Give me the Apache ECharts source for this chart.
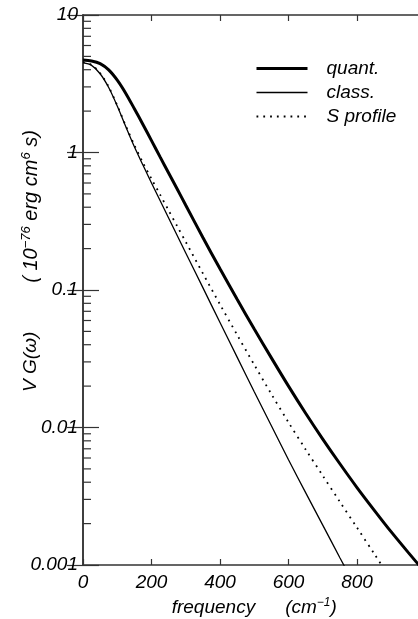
<!DOCTYPE html>
<html><head><meta charset="utf-8">
<script src="https://cdn.jsdelivr.net/npm/echarts@6/dist/echarts.min.js"></script>
<style>html,body{margin:0;padding:0;background:#fff}#c{width:418px;height:619px}</style>
</head><body><div id="c"></div>
<script>
const freq    = [0,25,50,75,100,125,150,175,200,225,250,275,300,350,400,450,500,550,600,650,700,750,800,850,900,950,1000];
const quant   = [4.70,4.63,4.43,3.99,3.36,2.69,2.08,1.60,1.22,0.929,0.710,0.543,0.413,0.241,0.1426,0.0855,0.0520,0.0321,0.0200,0.0127,0.00824,0.00545,0.00366,0.00251,0.00174,0.00123,0.000877];
const classic = [4.50,4.30,3.74,2.97,2.18,1.54,1.10,0.81,0.60,0.448,0.334,0.249,0.186,0.104,0.058,0.0325,0.0182,0.0103,0.00583,0.00336,0.00195,0.00113,0.00066,0.00038,0.00022,0.000128,0.000074];
const sprof   = [4.54,4.34,3.78,3.00,2.20,1.56,1.13,0.843,0.643,0.494,0.379,0.291,0.224,0.132,0.0785,0.0472,0.0286,0.0175,0.0109,0.00693,0.00446,0.00288,0.00187,0.00121,0.00078,0.00051,0.00033];
const seriesNames = ['quant.','class.','S profile'];
const yTickValues = [0.001,0.01,0.1,1,10];
const yTickLabels = ['0.001','0.01','0.1','1','10'];
const yMinorTicks = [];
[0.001,0.01,0.1,1].forEach(d=>{for(let k=2;k<=9;k++) yMinorTicks.push(+(d*k).toPrecision(3));});
const xTickLabels = ['0','200','400','600','800'];

const FONT = '"Liberation Sans", Arial, sans-serif';
const AX = '#333';
const FS = 19;
const W = [3, 1.3, 1.8];
const DASH = [1.8, 5];
const chart = echarts.init(document.getElementById('c'));
const pair = arr => freq.map((f,i)=>[f,arr[i]]);
const yLabel = v => { const i = yTickValues.findIndex(t=>Math.abs(Math.log10(t)-Math.log10(v))<1e-6); return i>=0 ? yTickLabels[i] : ''; };
const txt = {fontFamily:FONT, fontStyle:'italic', fontSize:FS, color:'#000', lineHeight:22};
const txt2 = {fontFamily:FONT, fontStyle:'italic', fontSize:20, color:'#000', lineHeight:22};
const sup = {fontFamily:FONT, fontStyle:'italic', fontSize:12, color:'#000', verticalAlign:'top', lineHeight:22};
const sup2 = {fontFamily:FONT, fontStyle:'italic', fontSize:13, color:'#000', verticalAlign:'top', lineHeight:22};
chart.setOption({
  animation:false,
  grid:{left:83, top:15, bottom:54, right:-7.5, containLabel:false, outerBoundsMode:'none'},
  legend:{
    data:[
      {name:seriesNames[0], lineStyle:{width:W[0], color:'#000'}},
      {name:seriesNames[1], lineStyle:{width:W[1], color:'#000'}},
      {name:seriesNames[2], lineStyle:{width:W[2], color:'#000', type:DASH}}
    ],
    orient:'vertical', left:250, top:54, itemWidth:51, itemHeight:14, itemGap:5,
    itemStyle:{color:'transparent', borderColor:'transparent', borderWidth:0, opacity:0},
    textStyle:{fontFamily:FONT, fontStyle:'italic', fontSize:FS, color:'#000', padding:[0,0,0,14]}
  },
  xAxis:[{
    type:'value', min:0, max:1000, interval:200, position:'bottom',
    axisLine:{lineStyle:{color:AX, width:1.5}},
    axisTick:{inside:true, length:6, lineStyle:{color:AX, width:1.2}},
    axisLabel:{showMaxLabel:false, margin:8, fontFamily:FONT, fontStyle:'italic', fontSize:FS, color:'#000',
      formatter:(v)=>xTickLabels[Math.round(v/200)] || ''},
    splitLine:{show:false},
    name:'{t|frequency}{g|}{t|(cm}{s|−1}{t|)}', nameLocation:'middle', nameGap:32, nameMoveOverlap:false,
    nameTextStyle:{rich:{t:txt, g:{width:30}, s:sup}}
  },{
    type:'value', min:0, max:1000, interval:200, position:'top',
    axisLine:{lineStyle:{color:AX, width:1.5}},
    axisTick:{inside:true, length:6, lineStyle:{color:AX, width:1.2}},
    axisLabel:{show:false}, splitLine:{show:false}
  }],
  yAxis:[{
    type:'log', logBase:10, min:0.001, max:10, position:'left',
    axisLine:{show:true, lineStyle:{color:AX, width:1.5}},
    axisTick:{show:true, inside:true, length:16, lineStyle:{color:AX, width:1.2}},
    minorTick:{show:false},
    axisLabel:{margin:5, fontFamily:FONT, fontStyle:'italic', fontSize:FS, color:'#000', formatter:yLabel},
    splitLine:{show:false},
    name:'{p|}{v|V G(ω)}{g|}{t|( 10}{s|−76}{t| erg cm}{s|6}{t| s)}',
    nameLocation:'middle', nameRotate:90, nameGap:41, nameMoveOverlap:false,
    nameTextStyle:{rich:{v:txt, t:txt2, g:{width:49}, p:{width:58}, s:sup2}}
  },{
    type:'log', logBase:10, min:0.001, max:10, position:'right',
    axisLine:{show:true, lineStyle:{color:AX, width:1.5}},
    axisTick:{show:true, inside:true, length:16, lineStyle:{color:AX, width:1.2}},
    axisLabel:{show:false}, splitLine:{show:false}
  }],
  series:[
    {name:seriesNames[0], type:'line', data:pair(quant), smooth:0.3, symbol:'none',
      lineStyle:{color:'#000', width:W[0]}, itemStyle:{color:'#000'}, z:5},
    {name:seriesNames[1], type:'line', data:pair(classic), smooth:0.3, symbol:'none',
      lineStyle:{color:'#000', width:W[1]}, itemStyle:{color:'#000'}, z:5},
    {name:seriesNames[2], type:'line', data:pair(sprof), smooth:0.3, symbol:'none',
      lineStyle:{color:'#000', width:W[2], type:DASH}, itemStyle:{color:'#000'}, z:5},
    {name:'minor', type:'custom', silent:true, clip:false, z:4,
      data:yMinorTicks.map(v=>[0,v]),
      renderItem:(params, api)=>{
        const p = api.coord([api.value(0), api.value(1)]);
        return {type:'line', shape:{x1:p[0], y1:p[1], x2:p[0]+8, y2:p[1]}, style:{stroke:AX, lineWidth:1.2}};
      }}
  ]
});
</script></body></html>
